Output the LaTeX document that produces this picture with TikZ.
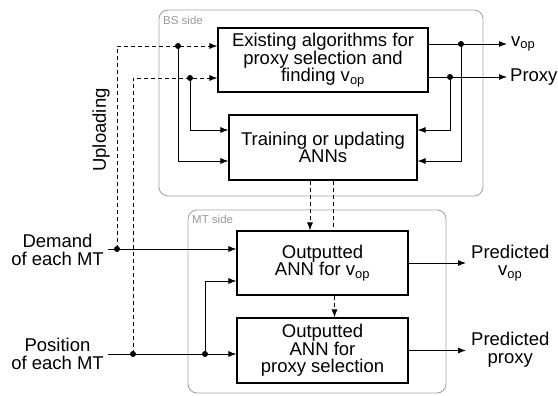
\documentclass[tikz,border=0pt]{standalone}
\usepackage{fontspec}
\setmainfont{Liberation Sans}
\usetikzlibrary{arrows.meta}
\begin{document}
\begin{tikzpicture}[x=1pt,y=-1pt,
  every node/.style={font=\fontsize{18.5}{17.6}\selectfont},
  blk/.style={draw,line width=1.1pt,fill=white,align=center,inner sep=0pt},
  lbl/.style={align=center,inner sep=2pt},
  side/.style={draw=black!35,line width=0.9pt,rounded corners=9pt},
  sidelbl/.style={text=black!40,font=\fontsize{11.5}{12}\selectfont,anchor=base west,inner sep=0pt},
  conn/.style={line width=0.9pt},
  arr/.style={conn,-{Latex[length=8pt,width=6pt]}},
  dsh/.style={dash pattern=on 4pt off 3pt},
  dot/.style={circle,fill=black,inner sep=0pt,minimum size=6pt}]
\useasboundingbox (0,0) rectangle (558,396);
% side frames
\draw[side] (159,10) rectangle (483,196);
\node[sidelbl] (bslbl) at (163,25) {BS side};
\draw[side] (188,210) rectangle (446,393);
\node[sidelbl] (mtlbl) at (192,224) {MT side};
% blocks
\node[blk,minimum width=210pt,minimum height=64pt] (b1) at (323,60)
  {Existing algorithms for\\proxy selection and\\finding v\textsubscript{op}};
\node[blk,minimum width=188pt,minimum height=65pt] (b2) at (323,147.5)
  {Training or updating\\ANNs};
\node[blk,minimum width=171pt,minimum height=64pt] (b3) at (322.5,263)
  {Outputted\\ANN for v\textsubscript{op}};
\node[blk,minimum width=171pt,minimum height=65pt] (b4) at (322.5,350.5)
  {Outputted\\ANN for\\proxy selection};
% labels
\node[lbl,anchor=east,inner sep=0pt] (dem) at (104,250) {Demand\\of each MT};
\node[lbl,anchor=east,inner sep=0pt] (pos) at (104,354) {Position\\of each MT};
\node[lbl,rotate=90] (upl) at (101,130) {Uploading};
\node[lbl,anchor=west,inner sep=0pt] (vop) at (511,44) {v\textsubscript{op}};
\node[lbl,anchor=west,inner sep=0pt] (prx) at (510,77) {Proxy};
\node[lbl,anchor=west,inner sep=0pt] (pv) at (471,263) {Predicted\\v\textsubscript{op}};
\node[lbl,anchor=west,inner sep=0pt] (pp) at (471,350) {Predicted\\proxy};
% junction coordinates
\coordinate (dA) at (117,249);
\coordinate (dB) at (133,354);
\coordinate (dC) at (205,354);
\coordinate (cC) at (205,281);
\coordinate (uA) at (178,46);
\coordinate (uB) at (190,78);
\coordinate (tA) at (178,161);
\coordinate (tB) at (190,130);
\coordinate (rA) at (461,44);
\coordinate (rB) at (450,77);
\coordinate (sA) at (461,161);
\coordinate (sB) at (450,130);
% inputs
\draw[arr] ([xshift=4pt]dem.east |- dA) -- (b3.west |- dA);
\draw[arr] ([xshift=4pt]pos.east |- dB) -- (b4.west |- dB);
\draw[arr] (dC) -- (cC) -- (b3.west |- cC);
% uploading (dashed)
\draw[arr,dsh] (dA) -- (dA |- uA) -- (b1.west |- uA);
\draw[arr,dsh] (dB) -- (dB |- uB) -- (b1.west |- uB);
% BS internal
\draw[arr] (uA) -- (tA) -- (b2.west |- tA);
\draw[arr] (uB) -- (tB) -- (b2.west |- tB);
\draw[arr] (b1.east |- rA) -- ([xshift=-4pt]vop.west |- rA);
\draw[arr] (b1.east |- rB) -- ([xshift=-3pt]prx.west |- rB);
\draw[arr] (rA) -- (sA) -- (b2.east |- sA);
\draw[arr] (rB) -- (sB) -- (b2.east |- sB);
% BS -> MT
\draw[arr,dsh] ([xshift=-13pt]b2.south) -- ([xshift=-13pt]b2.south |- b3.north);
\draw[conn,dsh] ([xshift=10pt]b2.south) -- ([xshift=10pt]b2.south |- b3.north);
\draw[arr,dsh] ([xshift=12pt]b3.south) -- ([xshift=12pt]b3.south |- b4.north);
% outputs
\draw[arr] (b3.east) -- ([xshift=-5pt]pv.west |- b3.east);
\draw[arr] (b4.east) -- ([xshift=-5pt]pp.west |- b4.east);
% dots
\foreach \p in {dA,dB,dC,uA,uB,rA,rB} \node[dot] at (\p) {};
\end{tikzpicture}
\end{document}
